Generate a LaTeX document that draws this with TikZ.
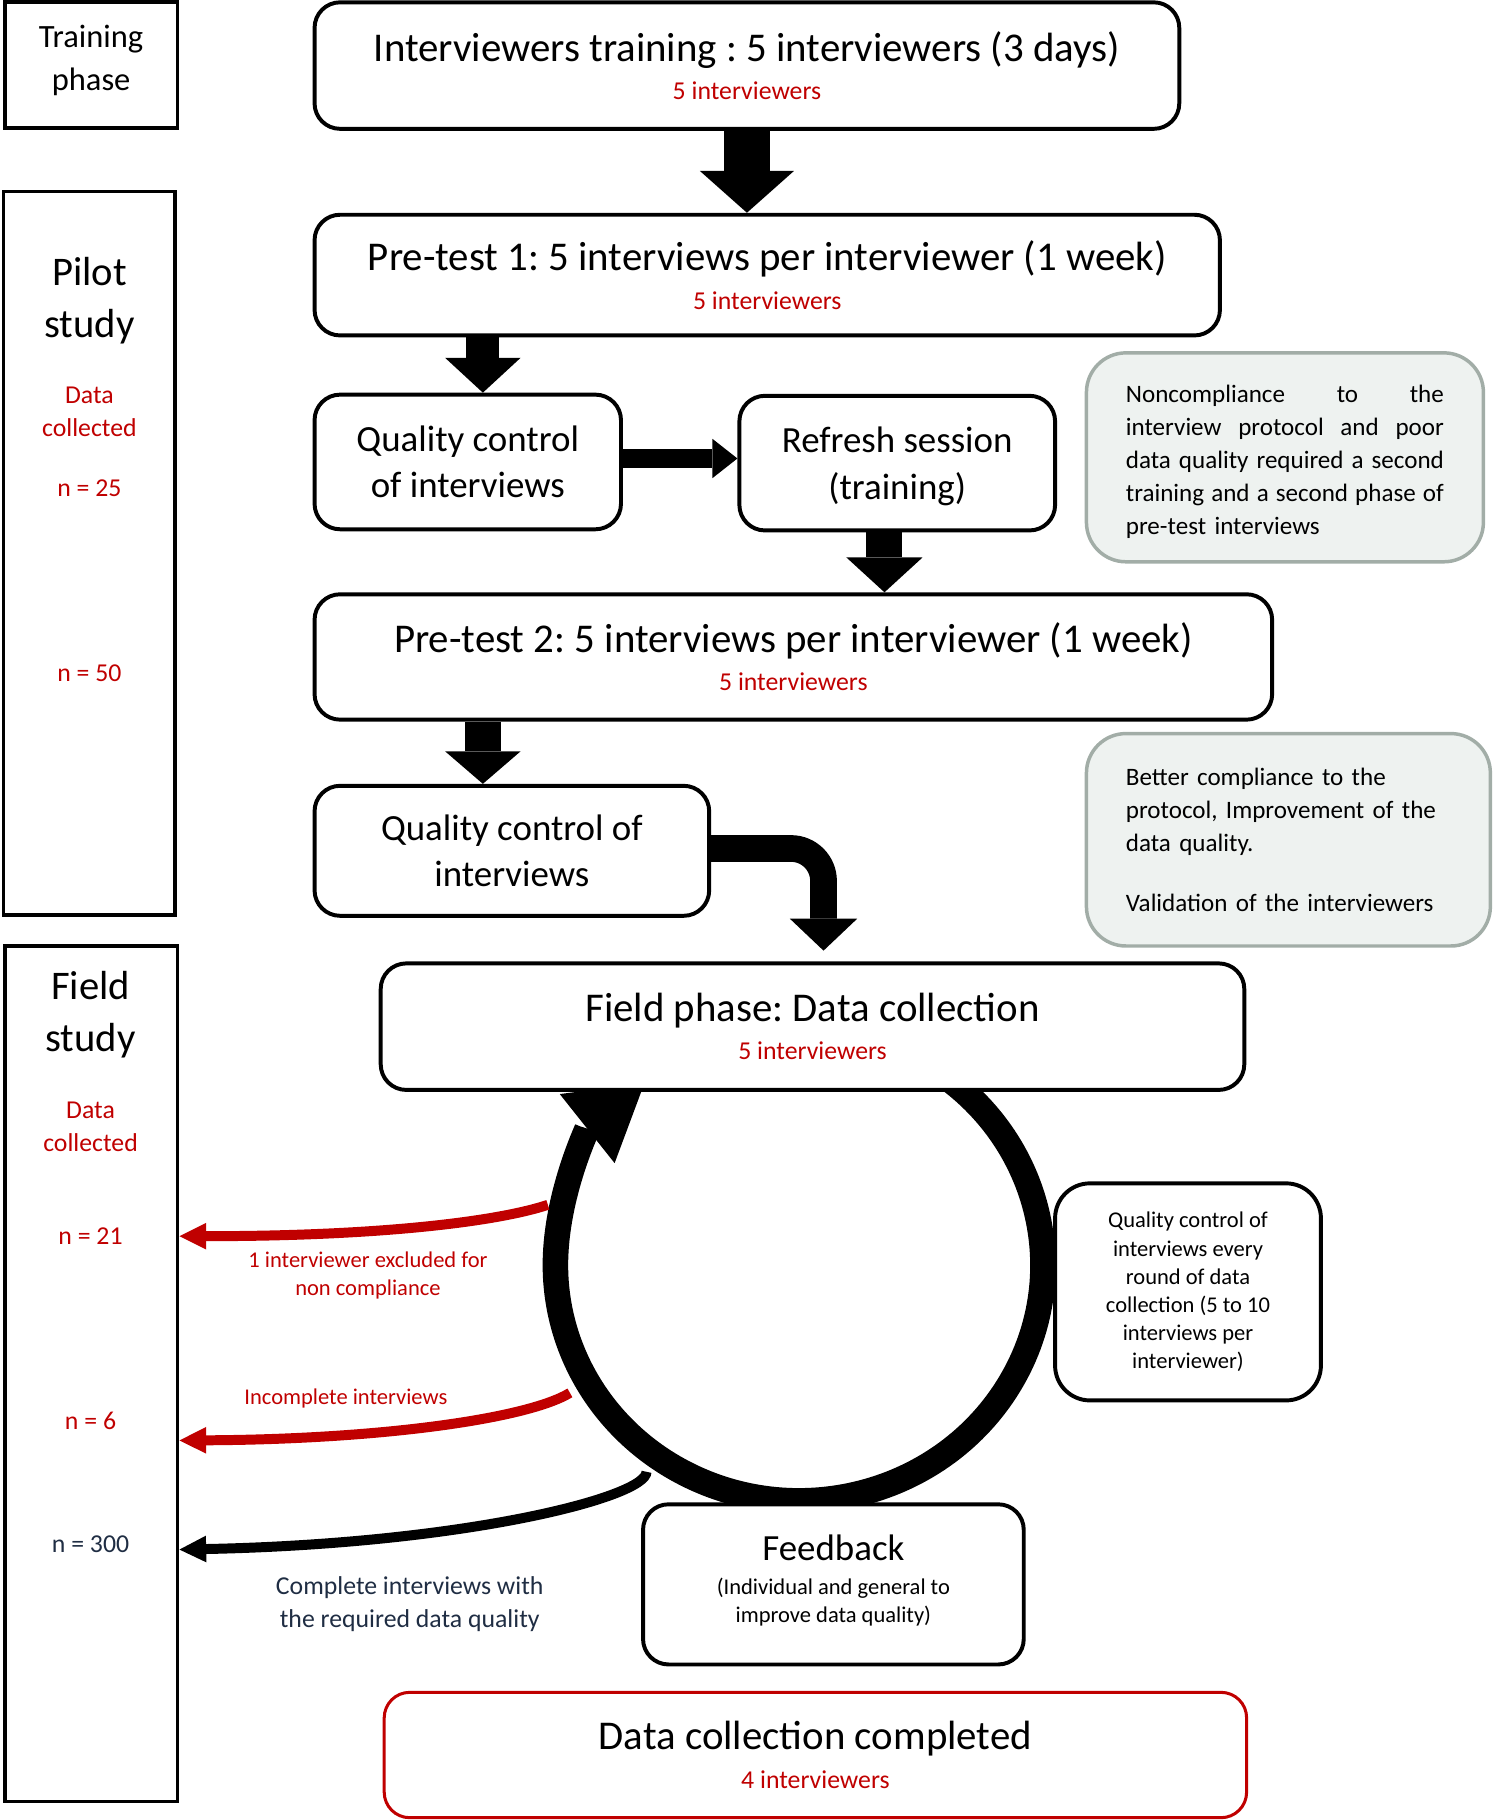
\documentclass[tikz,border=0pt]{standalone}
\usepackage{fontspec}
\setmainfont{Carlito}
\usetikzlibrary{arrows.meta,calc}
\frenchspacing

\definecolor{darkred}{HTML}{C00000}
\definecolor{navy}{HTML}{1F2D43}
\definecolor{notefill}{HTML}{EEF2F0}
\definecolor{noteline}{HTML}{A2ADA7}

\newcommand{\stagefont}{\fontsize{17.6}{16.5}\selectfont}
\newcommand{\blockfont}{\fontsize{15.9}{20}\selectfont}
\newcommand{\phasefont}{\fontsize{14}{18.5}\selectfont}
\newcommand{\sidefont}{\fontsize{17.5}{22.5}\selectfont}
\newcommand{\tallyfont}{\fontsize{11.1}{14}\selectfont}
\newcommand{\memofont}{\fontsize{10.8}{14.25}\selectfont}
\newcommand{\minorfont}{\fontsize{9.7}{12.1}\selectfont}
\newcommand{\fullline}[1]{\leavevmode\hbox to 137pt{#1}}

\tikzset{
  stage/.style={draw, line width=1.7pt, rounded corners=11pt, fill=white,
    align=center, inner sep=0pt},
  phasebox/.style={draw, line width=1.6pt, inner sep=0pt},
  memo/.style={draw=noteline, fill=notefill, line width=1.5pt,
    rounded corners=17pt, inner sep=0pt, align=left},
  flow/.style n args={3}{line width=#1,
    -{Triangle[width=#2,length=#3,line width=0pt]}},
  tally/.style={line width=4.3pt,
    -{Triangle[width=11.5pt,length=11.5pt,line width=0pt]}},
}

\begin{document}
\begin{tikzpicture}[x=0.5pt,y=-0.5pt]
  \useasboundingbox (0,0) rectangle (1287,1568);

  % Phase column on the left.
  \node[phasebox, minimum width=74.5pt, minimum height=54pt] (training) at (78.5,56) {};
  \node[font=\phasefont, align=center] (traininglbl) at (78.5,52) {Training\\phase};
  \node[phasebox, minimum width=74pt, minimum height=311.5pt] (pilot) at (77,476.5) {};
  \node[phasebox, minimum width=74.5pt, minimum height=368.5pt] (field) at (78.5,1183.5) {};
  \node[font=\sidefont, align=center] (pilotname) at (77,259) {Pilot\\study};
  \node[font=\tallyfont, align=center, text=darkred] (pilotdata) at (77,355) {Data\\collected};
  \node[font=\tallyfont, text=darkred] (nfirst) at (77,421) {n = 25};
  \node[font=\tallyfont, text=darkred] (nsecond) at (77,580) {n = 50};
  \node[font=\sidefont, align=center] (fieldname) at (78,874) {Field\\study};
  \node[font=\tallyfont, align=center, text=darkred] (fielddata) at (78,971) {Data\\collected};
  \node[font=\tallyfont, text=darkred] (nkept) at (78,1065) {n = 21};
  \node[font=\tallyfont, text=darkred] (nincomplete) at (78,1224) {n = 6};
  \node[font=\tallyfont, text=navy] (ncomplete) at (78,1330) {n = 300};

  % Training and pilot stages.
  \node[stage, font=\stagefont, minimum width=372.5pt, minimum height=54.5pt]
    (trainstage) at (643.5,56.5)
    {Interviewers training : 5 interviewers (3 days)\\{\tallyfont\color{darkred}5 interviewers}};
  \node[stage, font=\stagefont, minimum width=390pt, minimum height=52pt]
    (pretest1) at (661,237)
    {Pre-test 1: 5 interviews per interviewer (1 week)\\{\tallyfont\color{darkred}5 interviewers}};
  \node[stage, font=\blockfont, minimum width=132pt, minimum height=58pt]
    (qcone) at (403,398) {Quality control\\of interviews};
  \node[stage, font=\blockfont, minimum width=136pt, minimum height=58pt]
    (refresh) at (773,399) {Refresh session\\\raisebox{0pt}[\height][0pt]{(training)}};
  \node[memo, font=\memofont, text width=137pt, minimum width=171pt, minimum height=90pt]
    (noteone) at (1107,394)
    {\fullline{\rule{0pt}{11.6pt}Noncompliance\hfill to\hfill the}\\
     \fullline{interview\hfill protocol\hfill and\hfill poor}\\
     \fullline{data\hfill quality\hfill required\hfill a\hfill second}\\
     \fullline{training\hfill and\hfill a\hfill second\hfill phase\hfill of}\\
     pre-test interviews};
  \node[stage, font=\stagefont, minimum width=412.5pt, minimum height=54pt]
    (pretest2) at (683.5,566)
    {Pre-test 2: 5 interviews per interviewer (1 week)\\{\tallyfont\color{darkred}5 interviewers}};
  \node[stage, font=\blockfont, minimum width=170pt, minimum height=56pt]
    (qctwo) at (441,733) {Quality control of\\interviews};
  \node[memo, font=\memofont, text width=140pt, minimum width=174pt, minimum height=91.5pt]
    (notetwo) at (1110,723.5)
    {Better compliance to the\\protocol, Improvement of the\\data quality.\\[11.75pt]
     Validation of the interviewers};

  % Block arrows between the stages.
  \coordinate (qconetop) at ([xshift=6.5pt]qcone.north);
  \coordinate (qconeside) at ([yshift=1.5pt]qcone.east);
  \coordinate (refreshfoot) at ([xshift=-5.5pt]refresh.south);
  \coordinate (qctwotop) at ([xshift=-12.5pt]qctwo.north);
  \coordinate (qctwoside) at ([yshift=1pt]qctwo.east);
  \coordinate (fielddrop) at (709.5,819);
  \draw[flow={20pt}{40.5pt}{18pt}] (trainstage.south) -- (trainstage.south |- pretest1.north);
  \draw[flow={14.25pt}{32.5pt}{15pt}] (qconetop |- pretest1.south) -- (qconetop);
  \draw[flow={8.5pt}{17pt}{10.8pt}] (qconeside) -- (qconeside -| refresh.west);
  \draw[flow={15.5pt}{32.75pt}{15pt}] (refreshfoot) -- (refreshfoot |- pretest2.north);
  \draw[flow={15.5pt}{32.5pt}{14pt}] (qctwotop |- pretest2.south) -- (qctwotop);
  \draw[flow={11.5pt}{29pt}{13.75pt}, rounded corners=14pt] (qctwoside) -| (fielddrop);

  % Field loop, drawn below the boxes it touches.
  \coordinate (loopc) at (688.5,1090);
  \draw[flow={11pt}{38pt}{31.5pt}] ($(loopc)+(-60:210 and 203)$)
    arc[start angle=-60, end angle=230.6, x radius=210, y radius=203];

  \node[stage, font=\stagefont, minimum width=372pt, minimum height=54.5pt]
    (fieldstage) at (700,884.5)
    {Field phase: Data collection\\{\tallyfont\color{darkred}5 interviewers}};
  \node[stage, font=\minorfont, rounded corners=15pt, minimum width=114.5pt, minimum height=93.5pt]
    (qcround) at (1023.5,1113)
    {Quality control of\\interviews every\\round of data\\collection (5 to 10\\interviews per\\interviewer)};
  \node[stage, font=\fontsize{15.9}{15}\selectfont, minimum width=164pt, minimum height=69pt]
    (feedback) at (718,1365)
    {Feedback\\{\minorfont (Individual and general to}\\[-3pt]{\minorfont improve data quality)\rule[-5pt]{0pt}{1pt}}};
  \node[stage, draw=darkred, line width=1.3pt, font=\stagefont, minimum width=371.5pt, minimum height=54pt]
    (done) at (702.5,1512)
    {Data collection completed\\{\tallyfont\color{darkred}4 interviewers}};

  % Interviews leaving the loop.
  \coordinate (exclstart) at (472,1038);
  \coordinate (incstart) at (491,1200);
  \coordinate (compstart) at (557,1268);
  \coordinate (incy) at (0,1241);
  \coordinate (compy) at (0,1335);
  \draw[tally, darkred] (exclstart) .. controls (430,1052) and (330,1065) .. (field.east |- nkept);
  \draw[tally, darkred] (incstart) .. controls (455,1222) and (330,1240) .. (field.east |- incy);
  \draw[tally] (compstart) .. controls (557,1290) and (400,1330) .. (field.east |- compy);
  \node[font=\minorfont, text=darkred, align=center] (excltext) at (317,1099)
    {1 interviewer excluded for\\non compliance};
  \node[font=\minorfont, text=darkred] (inctext) at (298,1205) {Incomplete interviews};
  \node[font=\tallyfont, text=navy, align=center] (comptext) at (353,1382)
    {Complete interviews with\\the required data quality};
\end{tikzpicture}
\end{document}
